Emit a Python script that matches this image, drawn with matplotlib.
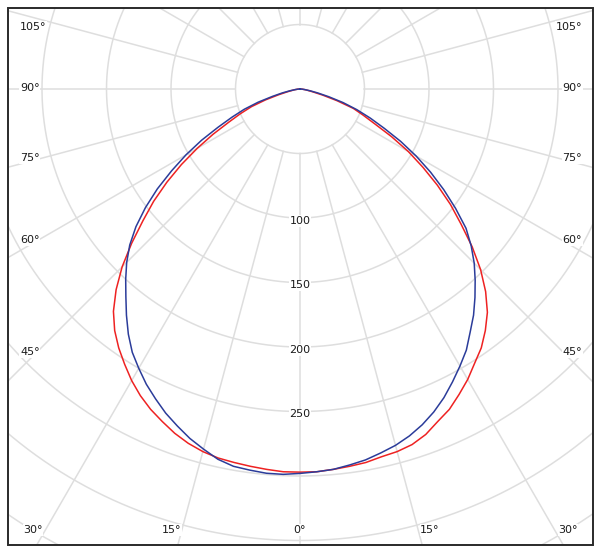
import numpy as np
import matplotlib
matplotlib.use("Agg")
import matplotlib.pyplot as plt
from matplotlib.patches import Rectangle

# ---------------- data (luminous intensity, cd) ----------------
angles = [-90, -87.5, -85, -82.5, -80, -77.5, -75, -72.5, -70, -67.5, -65, -62.5,
          -60, -57.5, -55, -52.5, -50, -47.5, -45, -42.5, -40, -37.5, -35, -32.5,
          -30, -27.5, -25, -22.5, -20, -17.5, -15, -12.5, -10, -7.5, -5, -2.5,
          0, 2.5, 5, 7.5, 10, 12.5, 15, 17.5, 20, 22.5, 25, 27.5,
          30, 32.5, 35, 37.5, 40, 42.5, 45, 47.5, 50, 52.5, 55, 57.5,
          60, 62.5, 65, 67.5, 70, 72.5, 75, 77.5, 80, 82.5, 85, 87.5, 90]
red_values = [0, 1, 2, 4, 6, 10, 17, 28, 40, 50, 61, 76,
              92, 109, 126, 143, 159, 177, 195, 211, 225, 236, 245, 253,
              261, 268, 274, 279, 284, 288, 291, 293, 294, 295, 296, 297,
              297, 297, 296, 295, 294, 292, 291, 289, 285, 279, 274, 267,
              260, 252, 245, 236, 226, 213, 198, 181, 163, 147, 130, 113,
              97, 80, 64, 53, 44, 30, 18, 10, 6, 4, 2, 1, 0]
blue_values = [0, 1, 2, 4, 8, 14, 22, 34, 46, 57, 70, 86,
               102, 118, 135, 151, 166, 179, 190, 200, 210, 221, 232, 242,
               250, 258, 265, 272, 278, 284, 289, 294, 297, 298, 299, 299,
               298, 297, 296, 294, 292, 289, 286, 282, 277, 271, 264, 256,
               248, 240, 230, 221, 211, 201, 191, 180, 168, 152, 136, 120,
               104, 88, 72, 59, 47, 35, 23, 14, 8, 4, 2, 1, 0]
ring_values = [50, 100, 150, 200, 250, 300, 350, 400, 450]
ring_labels = ["100", "150", "200", "250"]
grid_angles = list(range(0, 360, 15))
left_labels = ["105°", "90°", "75°", "60°", "45°"]
bottom_labels = ["30°", "15°", "0°", "15°", "30°"]

# ---------------- layout ----------------
W, H = 600, 553
cx, cy = 300, 89          # pole position in pixels (from top-left)
scale = 1.29              # pixels per cd
RMAX = 450
rad_px = RMAX * scale

fig = plt.figure(figsize=(W / 100, H / 100), dpi=100)
fig.patch.set_facecolor("white")

ax = fig.add_axes([(cx - rad_px) / W, (H - cy - rad_px) / H,
                   2 * rad_px / W, 2 * rad_px / H], projection="polar")
ax.set_theta_zero_location("S")
ax.set_theta_direction(1)
ax.set_ylim(0, RMAX)
ax.axis("off")

frame_box = (8, 8, 593, 545)  # left, top, right, bottom in px
clip_rect = Rectangle((frame_box[0] / W, (H - frame_box[3]) / H),
                      (frame_box[2] - frame_box[0]) / W,
                      (frame_box[3] - frame_box[1]) / H,
                      transform=fig.transFigure)

grid_color = "#dedede"
theta_dense = np.linspace(0, 2 * np.pi, 1441)
for r in ring_values:
    ax.plot(theta_dense, np.full_like(theta_dense, r), color=grid_color, lw=1.1, zorder=1)
for a in grid_angles:
    t = np.deg2rad(a)
    ax.plot([t, t], [50, RMAX], color=grid_color, lw=1.1, zorder=1)

th = np.deg2rad(angles)
ax.plot(th, red_values, color="#ee2222", lw=1.1, zorder=3)
ax.plot(th, blue_values, color="#2b3c9a", lw=1.1, zorder=4)

for ln in ax.lines:
    ln.set_clip_path(clip_rect)

for lab in ring_labels:
    r = float(lab)
    ax.text(0, r + 2.3, lab, ha="center", va="center", fontsize=8, color="#1a1a1a",
            bbox=dict(fc="white", ec="none", pad=0.6), zorder=5)

# frame
fig.add_artist(Rectangle((frame_box[0] / W, (H - frame_box[3]) / H),
                         (frame_box[2] - frame_box[0]) / W,
                         (frame_box[3] - frame_box[1]) / H,
                         transform=fig.transFigure, fill=False,
                         ec="#2a2a2a", lw=1.4, zorder=10))

# angle labels (pixel positions)
side_y = [27, 88, 158, 240, 352]
for lab, y in zip(left_labels, side_y):
    fig.text(20 / W, 1 - y / H, lab, ha="left", va="center", fontsize=8, color="#1a1a1a",
             bbox=dict(fc="white", ec="none", pad=0.5))
    fig.text(582 / W, 1 - y / H, lab, ha="right", va="center", fontsize=8, color="#1a1a1a",
             bbox=dict(fc="white", ec="none", pad=0.5))
bottom_x = [33, 172, 300, 430, 568]
for lab, x in zip(bottom_labels, bottom_x):
    fig.text(x / W, 1 - 530 / H, lab, ha="center", va="center", fontsize=8, color="#1a1a1a",
             bbox=dict(fc="white", ec="none", pad=0.5))

fig.savefig("out.png", dpi=100, facecolor="white")
